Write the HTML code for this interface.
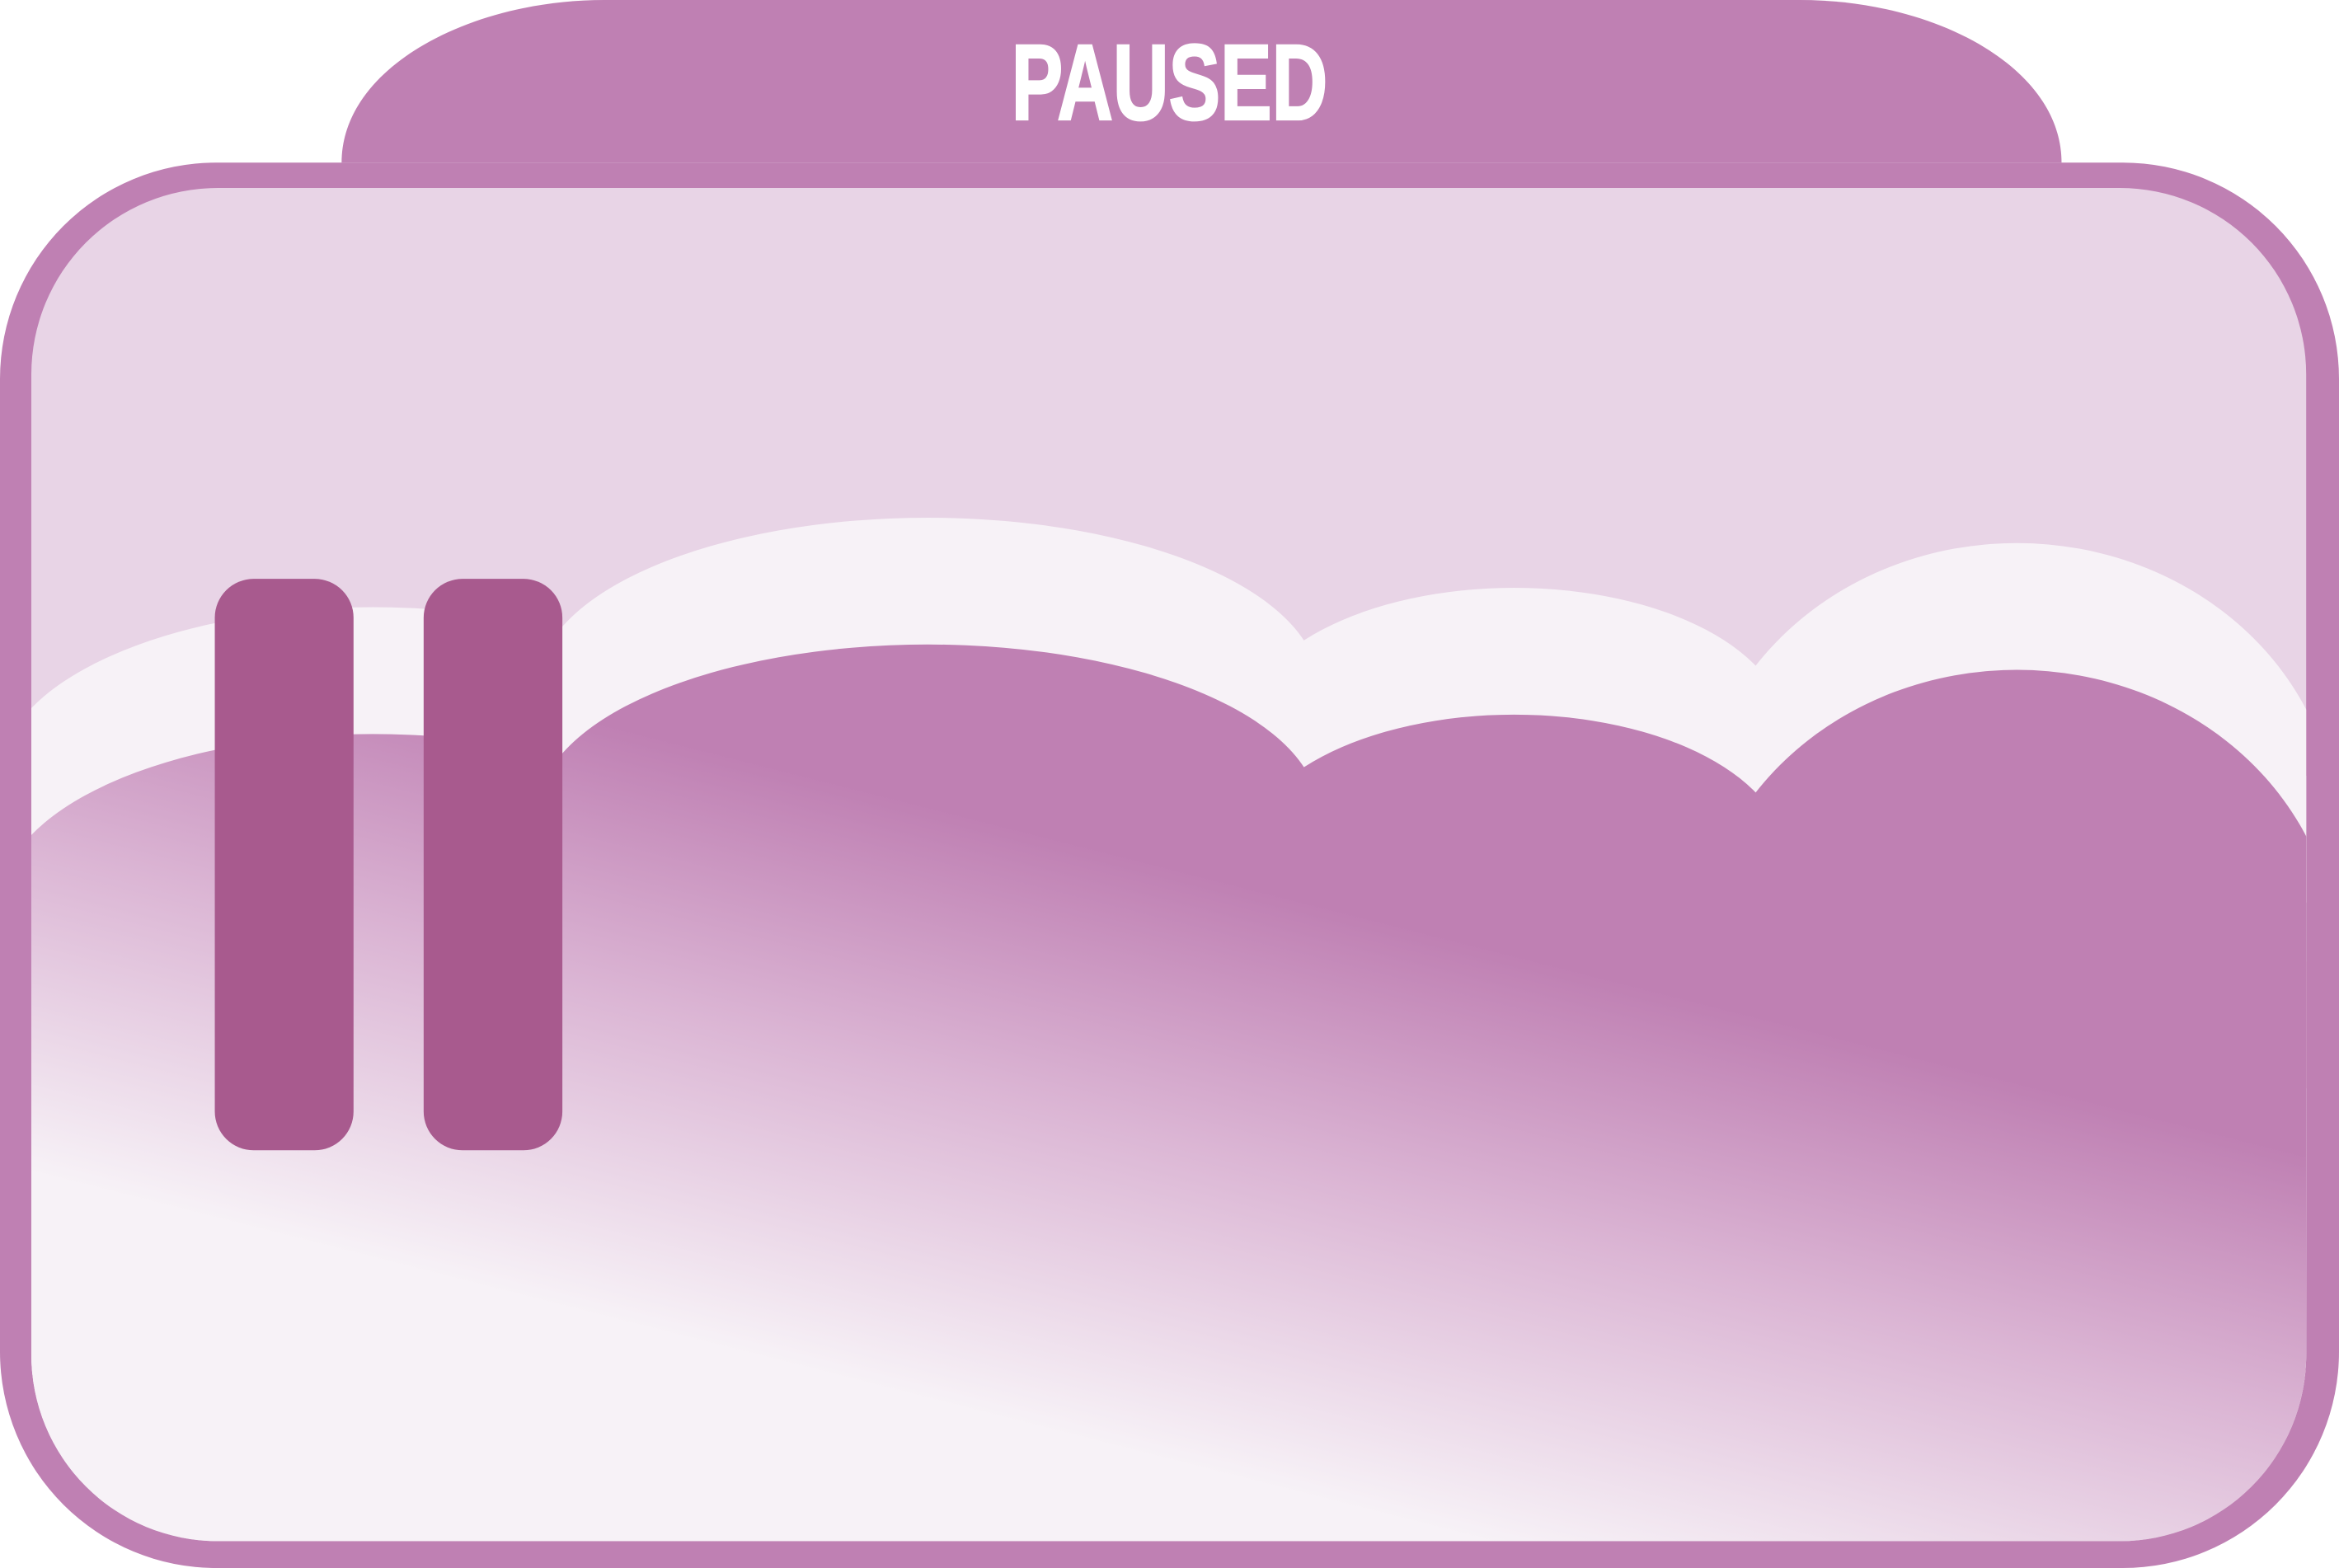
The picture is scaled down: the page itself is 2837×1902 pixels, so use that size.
<!DOCTYPE html>
<html><head><meta charset="utf-8"><style>
html,body{margin:0;padding:0;width:2837px;height:1902px;overflow:hidden;background:#fff;position:relative}
svg{display:block;overflow:hidden;position:absolute;left:0;top:0}
</style></head><body>
<svg width="2837" height="1902" viewBox="0 0 1568 1051" preserveAspectRatio="none" xmlns="http://www.w3.org/2000/svg">
<defs>
<clipPath id="inner"><rect x="21" y="126" width="1525" height="907" rx="125" ry="125"/></clipPath>
<linearGradient id="fade" gradientUnits="userSpaceOnUse" x1="820" y1="505" x2="725" y2="880">
<stop offset="0" stop-color="#bf80b3"/>
<stop offset="0.45" stop-color="#dbb5d4"/>
<stop offset="1" stop-color="#f7f2f7"/>
</linearGradient>
<g id="cloud">
<ellipse cx="250" cy="520" rx="250" ry="113"/>
<ellipse cx="622" cy="460" rx="262" ry="113"/>
<ellipse cx="1015" cy="490" rx="182" ry="96"/>
<ellipse cx="1352" cy="560" rx="215" ry="196"/>
<rect x="0" y="520" width="1568" height="445"/>
</g>
</defs>
<path d="M229,109 C229,45 315,0 405,0 L1207,0 C1297,0 1382,45 1382,109 Z" fill="#bf80b3"/>
<text x="678" y="80" textLength="212" lengthAdjust="spacingAndGlyphs" font-family="'Liberation Sans',sans-serif" font-weight="bold" font-size="72" fill="#ffffff" stroke="#ffffff" stroke-width="1.5">PAUSED</text>
<rect x="0" y="109" width="1568" height="942" rx="145" ry="145" fill="#bf80b3"/>
<rect x="21" y="126" width="1525" height="907" rx="125" ry="125" fill="#e8d4e6"/>
<g clip-path="url(#inner)">
<g fill="#f7f2f7"><use href="#cloud"/></g>
<g fill="url(#fade)" transform="translate(0,85)"><use href="#cloud"/></g>
</g>
<rect x="144" y="388" width="93" height="383" rx="26" ry="26" fill="#a85a8e"/>
<rect x="284" y="388" width="93" height="383" rx="26" ry="26" fill="#a85a8e"/>
</svg>
</body></html>
